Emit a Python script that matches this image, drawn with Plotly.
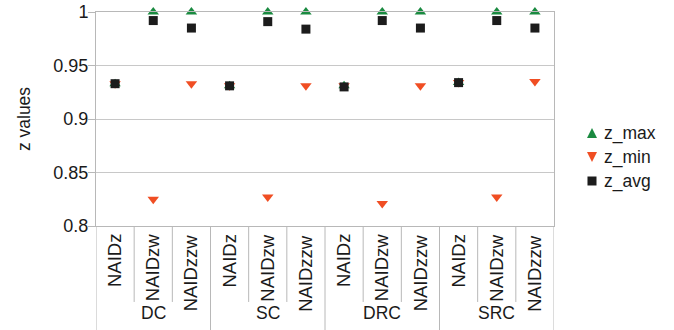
import plotly.graph_objects as go

groups = ["DC", "SC", "DRC", "SRC"]
methods = ["NAIDz", "NAIDzw", "NAIDzzw"]
z_max = [0.933, 1.0, 1.0, 0.931, 1.0, 1.0, 0.931, 1.0, 1.0, 0.934, 1.0, 1.0]
z_min = [0.933, 0.825, 0.933, 0.931, 0.827, 0.931, 0.931, 0.821, 0.931, 0.934, 0.827, 0.935]
z_avg = [0.933, 0.992, 0.985, 0.931, 0.991, 0.984, 0.930, 0.992, 0.985, 0.934, 0.992, 0.985]
y_ticks = [0.8, 0.85, 0.9, 0.95, 1.0]
y_tick_text = ["0.8", "0.85", "0.9", "0.95", "1"]
series_names = ["z_max", "z_min", "z_avg"]

FONT = "Liberation Sans, Arial, sans-serif"
FS = 17.5
TXT = "#1a1a1a"
LINE = "#b8b8b8"
COLORS = ["#1a8a40", "#f04e23", "#1c1c1c"]

W, H = 674, 330
ML, MR, MT, MB = 96, 120, 12, 104
PW, PH = W - ML - MR, H - MT - MB


def px_to_paper(px, py):
    return (px - ML) / PW, (H - MB - py) / PH


n = len(groups) * len(methods)
xs = list(range(n))

fig = go.Figure()
fig.add_trace(go.Scatter(x=xs, y=z_max, mode="markers", name=series_names[0],
                         marker=dict(symbol="triangle-up", size=10, color=COLORS[0]),
                         cliponaxis=False, showlegend=False))
fig.add_trace(go.Scatter(x=xs, y=z_min, mode="markers", name=series_names[1],
                         marker=dict(symbol="triangle-down", size=10, color=COLORS[1]),
                         cliponaxis=False, showlegend=False))
fig.add_trace(go.Scatter(x=xs, y=z_avg, mode="markers", name=series_names[2],
                         marker=dict(symbol="square", size=9, color=COLORS[2]),
                         cliponaxis=False, showlegend=False))

shapes = []
annotations = []
# separators
for k in range(n + 1):
    xb = k - 0.5
    is_group = (k % len(methods) == 0)
    shapes.append(dict(type="line", xref="x", yref="paper", x0=xb, x1=xb,
                       y0=0, y1=-0.49 if is_group else -0.355,
                       line=dict(color=LINE, width=1)))
# sub labels
for i in range(n):
    annotations.append(dict(x=i, y=-0.03, xref="x", yref="paper",
                            text=methods[i % len(methods)], textangle=-90,
                            showarrow=False, xanchor="center", yanchor="top",
                            font=dict(family=FONT, size=18.5, color=TXT)))
# group labels
for g, name in enumerate(groups):
    annotations.append(dict(x=g * len(methods) + (len(methods) - 1) / 2, y=-0.407,
                            xref="x", yref="paper", text=name, showarrow=False,
                            xanchor="center", yanchor="middle",
                            font=dict(family=FONT, size=FS, color=TXT)))
# y axis title
annotations.append(dict(x=-0.157, y=0.5, xref="paper", yref="paper", text="z values",
                        textangle=-90, showarrow=False, xanchor="center", yanchor="middle",
                        font=dict(family=FONT, size=FS, color=TXT)))

# custom legend (keys as paper-space shapes, labels as annotations)
row_y = [133, 157, 181]
key_x = 592
half = 5
for idx, (name, col, ry) in enumerate(zip(series_names, COLORS, row_y)):
    if idx == 0:
        pts = [(key_x - half, ry + 5), (key_x + half, ry + 5), (key_x, ry - 5)]
    elif idx == 1:
        pts = [(key_x - half, ry - 5), (key_x + half, ry - 5), (key_x, ry + 5)]
    else:
        pts = [(key_x - 4.5, ry - 4.5), (key_x + 4.5, ry - 4.5),
               (key_x + 4.5, ry + 4.5), (key_x - 4.5, ry + 4.5)]
    pp = [px_to_paper(a, b) for a, b in pts]
    path = "M " + " L ".join(f"{a:.4f},{b:.4f}" for a, b in pp) + " Z"
    shapes.append(dict(type="path", xref="paper", yref="paper", path=path,
                       fillcolor=col, line=dict(width=0)))
    tx, ty = px_to_paper(602, ry)
    annotations.append(dict(x=tx, y=ty, xref="paper", yref="paper", text=name,
                            showarrow=False, xanchor="left", yanchor="middle",
                            font=dict(family=FONT, size=FS, color=TXT)))

fig.update_layout(
    width=W, height=H,
    margin=dict(l=ML, r=MR, t=MT, b=MB, autoexpand=False),
    paper_bgcolor="white", plot_bgcolor="white",
    font=dict(family=FONT, size=FS, color=TXT),
    showlegend=False,
    shapes=shapes, annotations=annotations,
    xaxis=dict(range=[-0.5, n - 0.5], showgrid=False, zeroline=False,
               showticklabels=False, ticks="", showline=True, mirror=True,
               linecolor=LINE, linewidth=1, automargin=False),
    yaxis=dict(range=[0.8, 1.0], tickvals=y_ticks, ticktext=y_tick_text,
               showgrid=True, gridcolor="#c8c8c8", gridwidth=1, zeroline=False,
               ticks="outside", ticklen=7, tickcolor=LINE, showline=True, mirror=True,
               linecolor=LINE, linewidth=1, automargin=False, ticklabelstandoff=-4,
               tickfont=dict(family=FONT, size=18, color=TXT)),
)

fig.write_html("out.html")
